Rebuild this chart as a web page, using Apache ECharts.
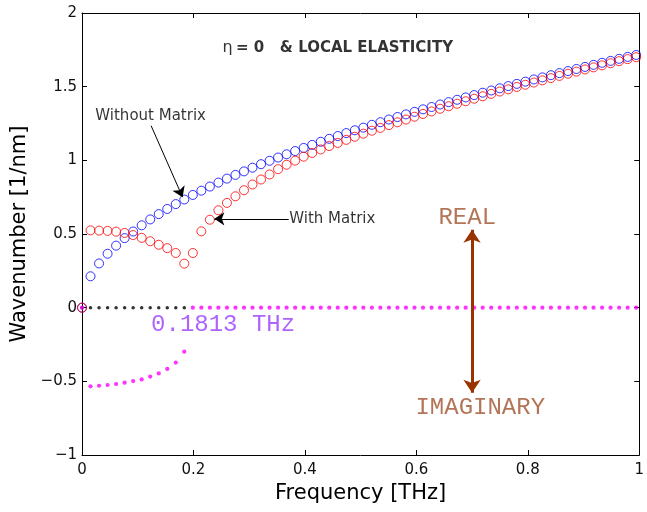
<!DOCTYPE html>
<html>
<head>
<meta charset="utf-8">
<script src="https://cdn.jsdelivr.net/npm/echarts@6/dist/echarts.min.js"></script>
<style>html,body{margin:0;padding:0;background:#fff;}#c{width:647px;height:512px;}</style>
</head>
<body>
<div id="c"></div>
<script>
// Frequency grid [THz]
const freq = [0, 0.0153, 0.0306, 0.0459, 0.0612, 0.0765, 0.0918, 0.1071, 0.1224, 0.1377, 0.153, 0.1683, 0.1836, 0.1989, 0.2142, 0.2295, 0.2448, 0.2601, 0.2754, 0.2907, 0.306, 0.3213, 0.3366, 0.3519, 0.3672, 0.3825, 0.3978, 0.4131, 0.4284, 0.4437, 0.459, 0.4743, 0.4896, 0.5049, 0.5202, 0.5355, 0.5508, 0.5661, 0.5814, 0.5967, 0.612, 0.6273, 0.6426, 0.6579, 0.6732, 0.6885, 0.7038, 0.7191, 0.7344, 0.7497, 0.765, 0.7803, 0.7956, 0.8109, 0.8262, 0.8415, 0.8568, 0.8721, 0.8874, 0.9027, 0.918, 0.9333, 0.9486, 0.9639, 0.9792, 0.9945];
// Without matrix (real part)
const blueReal = [0, 0.213, 0.300, 0.366, 0.421, 0.472, 0.517, 0.559, 0.599, 0.635, 0.670, 0.703, 0.734, 0.765, 0.794, 0.822, 0.849, 0.876, 0.901, 0.925, 0.950, 0.974, 0.997, 1.019, 1.041, 1.063, 1.084, 1.105, 1.126, 1.146, 1.165, 1.185, 1.204, 1.222, 1.241, 1.259, 1.277, 1.294, 1.312, 1.329, 1.346, 1.362, 1.379, 1.395, 1.411, 1.427, 1.443, 1.459, 1.474, 1.489, 1.504, 1.519, 1.534, 1.549, 1.563, 1.578, 1.592, 1.606, 1.620, 1.634, 1.648, 1.662, 1.675, 1.689, 1.702, 1.715];
// With matrix (real part)
const redReal = [0, 0.525, 0.523, 0.521, 0.516, 0.507, 0.493, 0.474, 0.451, 0.427, 0.404, 0.371, 0.299, 0.371, 0.518, 0.597, 0.661, 0.711, 0.756, 0.797, 0.836, 0.870, 0.904, 0.940, 0.970, 0.998, 1.025, 1.050, 1.074, 1.097, 1.118, 1.139, 1.160, 1.181, 1.201, 1.220, 1.239, 1.258, 1.277, 1.296, 1.315, 1.332, 1.350, 1.367, 1.384, 1.401, 1.418, 1.435, 1.451, 1.467, 1.482, 1.498, 1.513, 1.528, 1.543, 1.558, 1.573, 1.588, 1.602, 1.617, 1.631, 1.645, 1.659, 1.673, 1.687, 1.700];
// Without matrix (imaginary part), shown up to the cut-off
const blackImag = [0, 0, 0, 0, 0, 0, 0, 0, 0, 0, 0, 0, 0];
// With matrix (imaginary part)
const magentaImag = [0, -0.534, -0.530, -0.525, -0.518, -0.509, -0.498, -0.487, -0.468, -0.446, -0.416, -0.373, -0.299, 0, 0, 0, 0, 0, 0, 0, 0, 0, 0, 0, 0, 0, 0, 0, 0, 0, 0, 0, 0, 0, 0, 0, 0, 0, 0, 0, 0, 0, 0, 0, 0, 0, 0, 0, 0, 0, 0, 0, 0, 0, 0, 0, 0, 0, 0, 0, 0, 0, 0, 0, 0, 0];

const xTickValues = [0, 0.2, 0.4, 0.6, 0.8, 1];
const xTickLabels = ['0', '0.2', '0.4', '0.6', '0.8', '1'];
const yTickValues = [-1, -0.5, 0, 0.5, 1, 1.5, 2];
const yTickLabels = ['\u22121', '\u22120.5', '0', '0.5', '1', '1.5', '2'];

// Annotations (data coordinates)
const titleText = ['η', '= 0   & LOCAL ELASTICITY'];
const titlePos = [0.459, 1.762];
const withoutLabel = 'Without Matrix';
const withoutLabelPos = [0.0239, 1.298];
const withoutArrow = [[0.124, 1.235], [0.1805, 0.750]];
const withLabel = 'With Matrix';
const withLabelPos = [0.372, 0.603];
const withArrow = [[0.371, 0.603], [0.2375, 0.603]];
const cutoffLabel = '0.1813 THz';
const cutoffLabelPos = [0.124, -0.114];
const realLabel = 'REAL';
const realLabelPos = [0.6914, 0.614];
const imagLabel = 'IMAGINARY';
const imagLabelPos = [0.7147, -0.679];
const dblArrow = [[0.7, 0.528], [0.7, -0.577]];

const pairs = (ys) => ys.map((y, i) => [freq[i], y]);
const fmt = (vals, labs) => (v) => { const i = vals.findIndex(t => Math.abs(t - v) < 1e-9); return i >= 0 ? labs[i] : ''; };
const SANS = 'DejaVu Sans';

const chart = echarts.init(document.getElementById('c'), null, {renderer: 'canvas'});
const axisCommon = {
  axisLine: {show: true, onZero: false, lineStyle: {color: '#000', width: 1}},
  axisTick: {show: true, inside: true, length: 5, lineStyle: {color: '#000', width: 1}},
  splitLine: {show: false}
};
chart.setOption({
  animation: false,
  backgroundColor: '#fff',
  grid: {left: 82, right: 4, top: 13, bottom: 57, containLabel: false},
  xAxis: [
    Object.assign({type: 'value', position: 'bottom', min: 0, max: 1, interval: 0.2,
      name: 'Frequency [THz]', nameLocation: 'middle', nameGap: 27,
      nameTextStyle: {fontFamily: SANS, fontSize: 21, color: '#000'},
      axisLabel: {show: true, margin: 8, fontFamily: SANS, fontSize: 15, color: '#111', formatter: fmt(xTickValues, xTickLabels)}}, axisCommon),
    Object.assign({type: 'value', position: 'top', min: 0, max: 1, interval: 0.2, axisLabel: {show: false}}, axisCommon)
  ],
  yAxis: [
    Object.assign({type: 'value', position: 'left', min: -1, max: 2, interval: 0.5,
      name: 'Wavenumber [1/nm]', nameLocation: 'middle', nameGap: 44,
      nameTextStyle: {fontFamily: SANS, fontSize: 21, color: '#000'},
      axisLabel: {show: true, margin: 5, fontFamily: SANS, fontSize: 15, color: '#111', formatter: fmt(yTickValues, yTickLabels)}}, axisCommon),
    Object.assign({type: 'value', position: 'right', min: -1, max: 2, interval: 0.5, axisLabel: {show: false}}, axisCommon)
  ],
  series: [
    {type: 'scatter', name: 'Without Matrix', data: pairs(blueReal), symbol: 'circle', symbolSize: 9,
      itemStyle: {color: 'rgba(0,0,0,0)', borderColor: '#0000ff', borderWidth: 1}, z: 2},
    {type: 'scatter', name: 'With Matrix', data: pairs(redReal), symbol: 'circle', symbolSize: 9,
      itemStyle: {color: 'rgba(0,0,0,0)', borderColor: '#ff0000', borderWidth: 1}, z: 3},
    {type: 'scatter', name: 'Imag without', data: pairs(blackImag), symbol: 'circle', symbolSize: 3.5,
      itemStyle: {color: '#000'}, z: 4},
    {type: 'scatter', name: 'Imag with', data: pairs(magentaImag), symbol: 'circle', symbolSize: 4.2,
      itemStyle: {color: '#ff00ff'}, z: 5},
    {type: 'lines', coordinateSystem: 'cartesian2d', polyline: false, z: 6,
      symbol: ['none', 'arrow'], symbolSize: 10,
      lineStyle: {color: '#000', width: 1, opacity: 1, curveness: 0},
      data: [{coords: withoutArrow}, {coords: withArrow}]},
    {type: 'lines', coordinateSystem: 'cartesian2d', polyline: false, z: 6,
      symbol: ['arrow', 'arrow'], symbolSize: 13,
      lineStyle: {color: '#993300', width: 3, opacity: 1, curveness: 0},
      data: [{coords: dblArrow}]},
    {type: 'scatter', name: 'labels', symbolSize: 0, z: 7, silent: true,
      itemStyle: {color: 'rgba(0,0,0,0)'},
      data: [
        {value: titlePos, label: {show: true, position: 'inside', formatter: '{g|' + titleText[0] + '} {b|' + titleText[1] + '}',
          rich: {g: {fontFamily: SANS, fontSize: 16, color: '#000'}, b: {fontFamily: SANS, fontWeight: 'bold', fontSize: 15, color: '#000'}}}},
        {value: withoutLabelPos, label: {show: true, position: 'right', distance: 0, formatter: withoutLabel, fontFamily: SANS, fontSize: 15, color: '#000'}},
        {value: withLabelPos, label: {show: true, position: 'right', distance: 0, formatter: withLabel, fontFamily: SANS, fontSize: 15, color: '#000'}},
        {value: cutoffLabelPos, label: {show: true, position: 'right', distance: 0, formatter: cutoffLabel, fontFamily: 'Liberation Mono', fontSize: 24, color: '#9a3cff'}},
        {value: realLabelPos, label: {show: true, position: 'inside', formatter: realLabel, fontFamily: 'Liberation Mono', fontSize: 24, color: '#a0522d'}},
        {value: imagLabelPos, label: {show: true, position: 'inside', formatter: imagLabel, fontFamily: 'Liberation Mono', fontSize: 24, color: '#a0522d'}}
      ]}
  ]
});
</script>
</body>
</html>
